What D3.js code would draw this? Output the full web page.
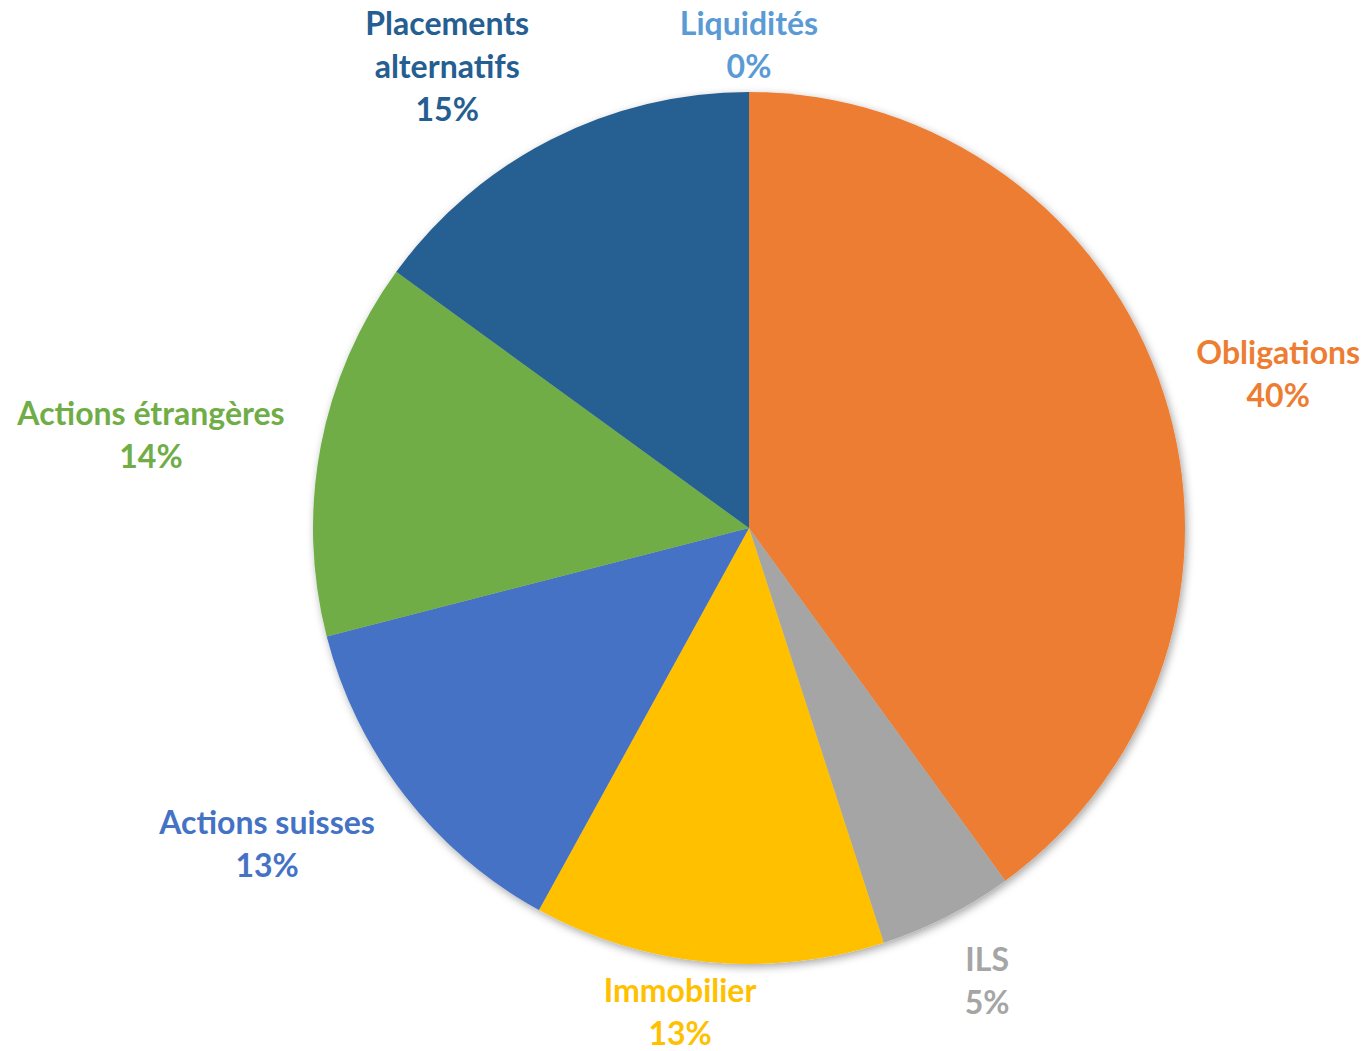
<!DOCTYPE html>
<html><head><meta charset="utf-8">
<script src="https://cdn.jsdelivr.net/npm/d3@7"></script>
<style>html,body{margin:0;padding:0;background:#fff;}svg{display:block;}</style>
</head><body>
<script>
const categories = ["Liquidités","Obligations","ILS","Immobilier","Actions suisses","Actions étrangères","Placements alternatifs"];
const labelLines = [["Liquidités"],["Obligations"],["ILS"],["Immobilier"],["Actions suisses"],["Actions étrangères"],["Placements","alternatifs"]];
const values = [0, 40, 5, 13, 13, 14, 15];
const colors = ["#5B9BD5","#ED7D31","#A5A5A5","#FFC000","#4472C4","#70AD47","#255E91"];

// label layout (outside-end / best-fit): radius factor and angular shift (deg) from slice mid-angle
const labelRadius = [1.107, 1.264, 1.175, 1.122, 1.3225, 1.388, 1.264];
const labelAngleShift = [0, 1.8, -0.7, 2.7, 4.5, -2.0, -6.2];

const W = 1368, H = 1051;
const cx = 749, cy = 528, R = 436;
const fontSize = 32, lineH = 43;

const svg = d3.select("body").append("svg").attr("width", W).attr("height", H);
const defs = svg.append("defs");
const f = defs.append("filter").attr("id","sh").attr("x","-10%").attr("y","-10%").attr("width","120%").attr("height","120%");
f.append("feDropShadow").attr("dx",2).attr("dy",3).attr("stdDeviation",4).attr("flood-color","#000").attr("flood-opacity",0.35);

const data = categories.map((c,i)=>({name:c, lines:labelLines[i], value:values[i], color:colors[i], lr:labelRadius[i], la:labelAngleShift[i]}));
const pie = d3.pie().sort(null).value(d=>d.value).startAngle(0).endAngle(2*Math.PI);
const arcs = pie(data);
const arc = d3.arc().innerRadius(0).outerRadius(R);

const g = svg.append("g").attr("transform",`translate(${cx},${cy})`);
const pg = g.append("g").attr("filter","url(#sh)");
pg.selectAll("path").data(arcs.filter(a=>a.value>0)).join("path")
  .attr("d", arc).attr("fill", d=>d.data.color);

const lg = g.append("g");
arcs.forEach(a => {
  const mid = (a.startAngle + a.endAngle)/2 + a.data.la*Math.PI/180;
  const r = R * a.data.lr;
  const bx = r*Math.sin(mid), by = -r*Math.cos(mid);
  const lines = a.data.lines.concat([Math.round(a.data.value) + "%"]);
  const h = lines.length * lineH;
  const t = lg.append("text")
    .attr("font-family","Lato, 'Open Sans', sans-serif")
    .attr("font-weight",700).attr("font-size",fontSize)
    .attr("fill", a.data.color).attr("text-anchor","middle");
  lines.forEach((l,i) => t.append("tspan").text(l)
    .attr("x", bx).attr("y", by - h/2 + lineH*i + lineH/2).attr("dy","0.35em"));
});
</script>
</body></html>
